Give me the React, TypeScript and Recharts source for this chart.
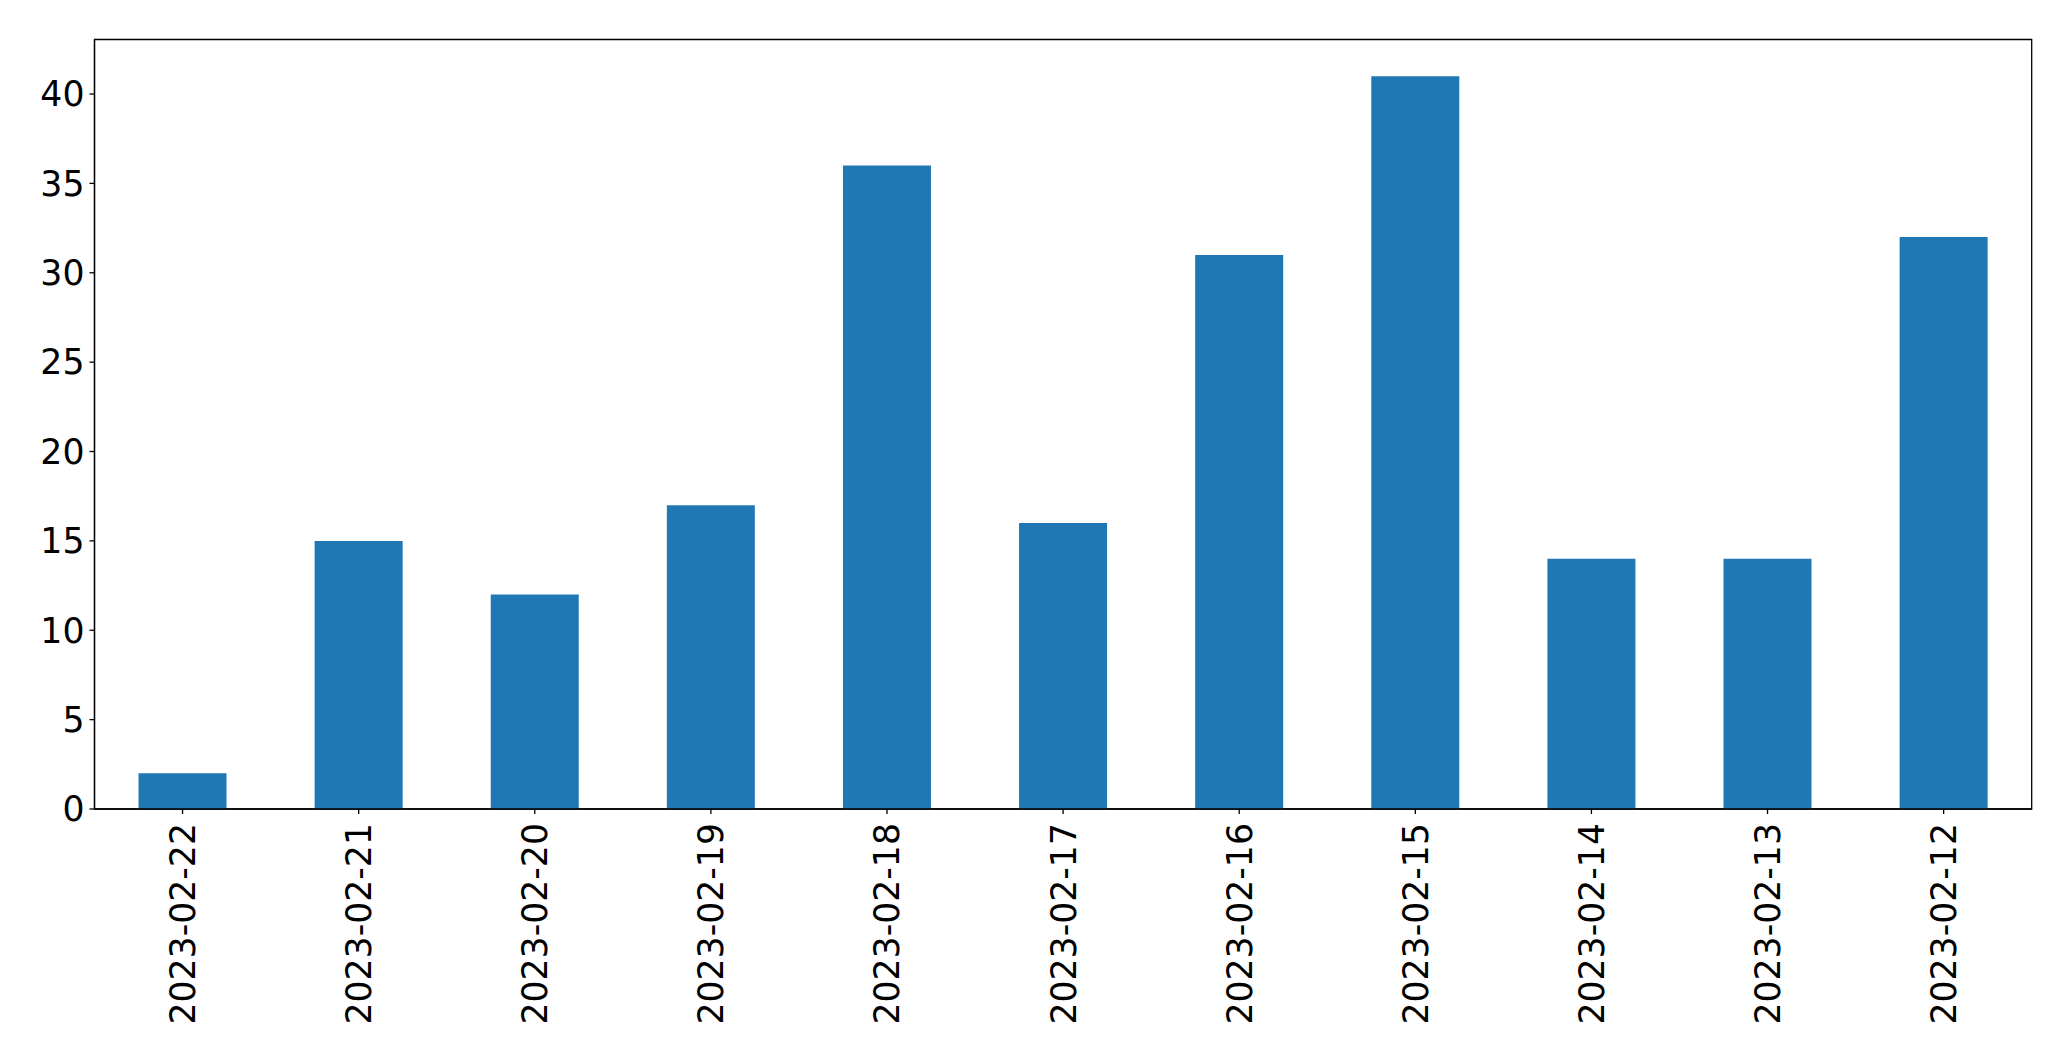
import { Bar, BarChart, ReferenceArea, XAxis, YAxis } from "recharts";

const dates = [
  "2023-02-22", "2023-02-21", "2023-02-20", "2023-02-19", "2023-02-18", "2023-02-17",
  "2023-02-16", "2023-02-15", "2023-02-14", "2023-02-13", "2023-02-12",
];
const counts = [2, 15, 12, 17, 36, 16, 31, 41, 14, 14, 32];
const yTicks = [0, 5, 10, 15, 20, 25, 30, 35, 40];
const yMax = 43.05;

const chartData = dates.map((d, i) => ({ date: d, count: counts[i] }));

const FONT = "'DejaVu Sans', sans-serif";
const FONT_SIZE = 34.7;

const RotatedTick = (props: any) => {
  const { x, y, payload } = props;
  return (
    <text
      x={x}
      y={y}
      transform={`rotate(-90, ${x}, ${y})`}
      textAnchor="end"
      dy="0.36em"
      fill="#000"
      fontFamily={FONT}
      fontSize={FONT_SIZE}
    >
      {payload.value}
    </text>
  );
};

const App = () => {
  return (
    <div style={{ position: "absolute", left: 0, top: 0, background: "#fff" }}>
      <BarChart
        width={2071}
        height={1061}
        data={chartData}
        margin={{ top: 39.5, right: 39.3, left: 0, bottom: 0 }}
        barCategoryGap="25%"
      >
        <XAxis
          dataKey="date"
          height={252}
          interval={0}
          tick={(p: any) => <RotatedTick {...p} />}
          tickSize={5}
          tickMargin={9}
          tickLine={{ stroke: "#000", strokeWidth: 1.3 }}
          axisLine={{ stroke: "#000", strokeWidth: 1.3 }}
        />
        <YAxis
          width={94.5}
          domain={[0, yMax]}
          ticks={yTicks}
          interval={0}
          allowDataOverflow
          tickSize={5}
          tickMargin={5}
          tick={{ fill: "#000", fontFamily: FONT, fontSize: FONT_SIZE }}
          tickLine={{ stroke: "#000", strokeWidth: 1.3 }}
          axisLine={{ stroke: "#000", strokeWidth: 1.3 }}
        />
        <Bar dataKey="count" fill="#1f77b4" isAnimationActive={false} />
        <ReferenceArea
          y1={0}
          y2={yMax}
          fill="none"
          fillOpacity={0}
          stroke="#000"
          strokeWidth={1.3}
          ifOverflow="visible"
        />
      </BarChart>
    </div>
  );
};

export default App;
